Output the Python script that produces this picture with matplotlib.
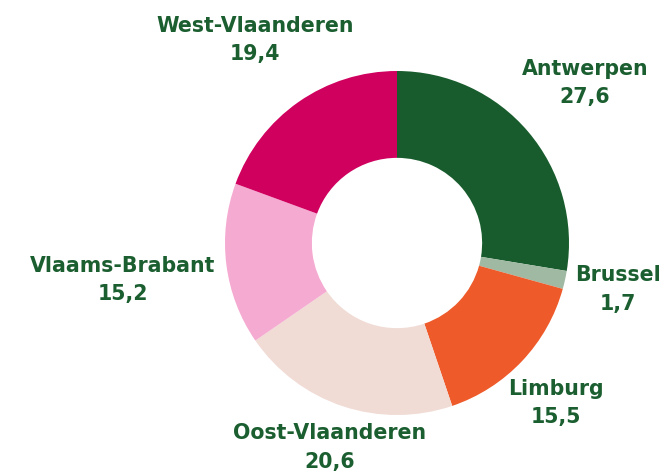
import matplotlib.pyplot as plt

# Data
provincies = ['Antwerpen', 'Brussel', 'Limburg', 'Oost-Vlaanderen', 'Vlaams-Brabant', 'West-Vlaanderen']
aandeel = [27.6, 1.7, 15.5, 20.6, 15.2, 19.4]
kleuren = ['#185c2d', '#9fb9a3', '#ee5a29', '#f0dbd5', '#f5aad2', '#d0005f']

# label positions (data units, radius = 1)
label_pos = [(1.093, 0.93), (1.285, -0.27), (0.924, -0.93),
             (-0.39, -1.19), (-1.593, -0.215), (-0.826, 1.18)]

fig = plt.figure(figsize=(6.64, 4.73), dpi=100)
ax = fig.add_axes([0, 0, 1, 1])

ax.pie(aandeel, colors=kleuren, startangle=90, counterclock=False,
       radius=1, wedgeprops=dict(width=0.505, linewidth=0))

for naam, waarde, (x, y) in zip(provincies, aandeel, label_pos):
    tekst = f"{naam}\n{waarde:.1f}".replace('.', ',')
    ax.text(x, y, tekst, ha='center', va='center', color='#1b5e30',
            fontsize=14.8, fontweight='bold', family='DejaVu Sans', linespacing=1.55)

cx, cy, r = 397, 243, 172
ax.set_xlim(-cx / r, (664 - cx) / r)
ax.set_ylim(-(473 - cy) / r, cy / r)
ax.set_aspect('auto')
ax.axis('off')

plt.savefig('out.png', dpi=100)
plt.close()
